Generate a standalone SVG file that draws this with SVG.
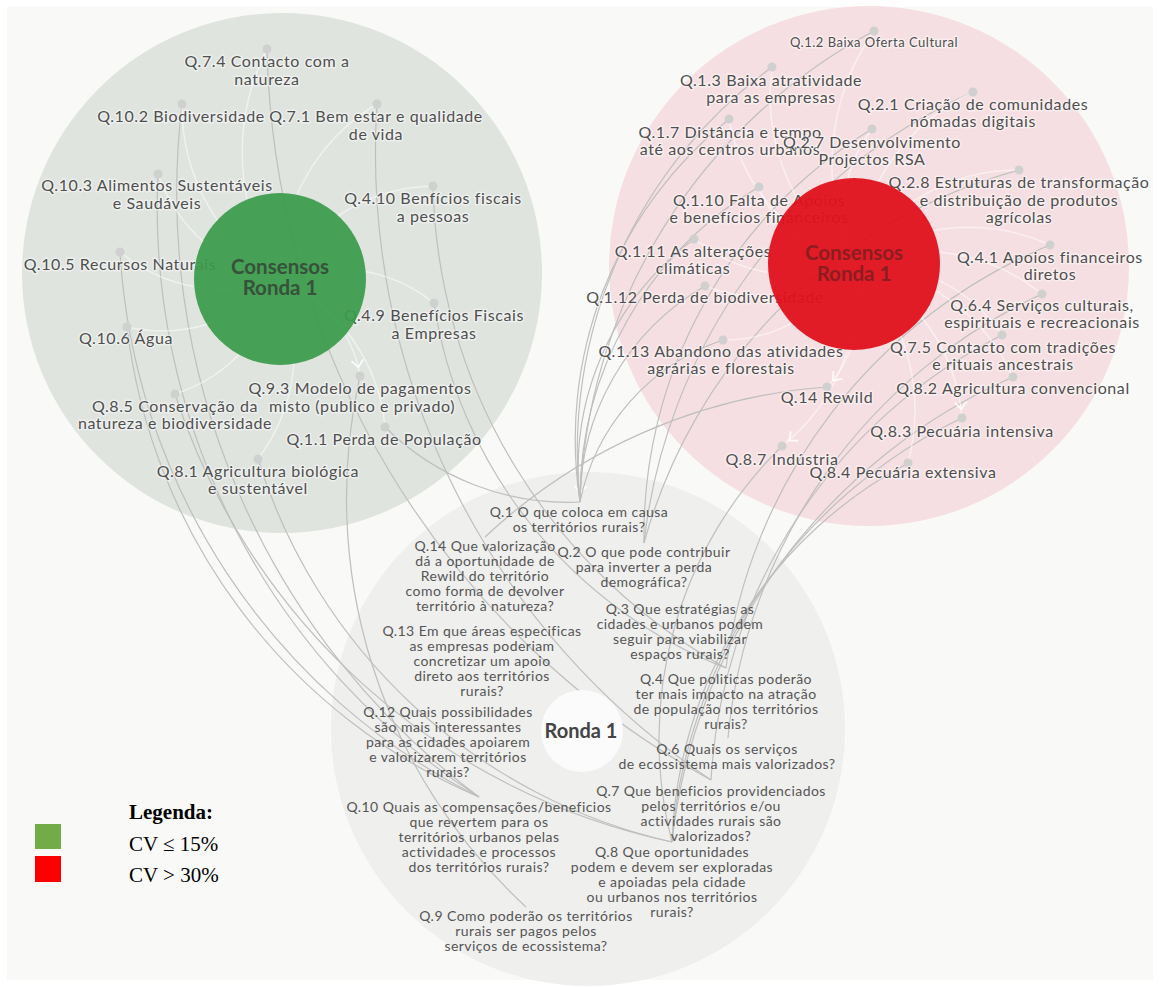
<svg xmlns="http://www.w3.org/2000/svg" width="1160" height="987" viewBox="0 0 1160 987">
  <defs>
    <style>
      .lbl{font-family:Lato,"Open Sans","Liberation Sans",sans-serif;font-size:16px;letter-spacing:.6px;fill:#4f4f4f;text-anchor:middle;stroke:#fff;stroke-opacity:.45;stroke-width:3px;stroke-linejoin:round;paint-order:stroke}
      .sm{font-size:13px;letter-spacing:.5px}
      .q{font-family:Lato,"Open Sans","Liberation Sans",sans-serif;font-size:14px;letter-spacing:.45px;fill:#555;text-anchor:middle}
      .dot{fill:#d0d0d0}
      .link{fill:none;stroke:#bfbfbf;stroke-width:1.2}
      .wlink{fill:none;stroke:#fff;stroke-width:1.5;stroke-opacity:.5}
      .hub{font-family:Lato,"Open Sans","Liberation Sans",sans-serif;font-weight:700;font-size:20.5px;text-anchor:middle}
      .leg{font-family:"Liberation Serif","Times New Roman",serif;font-size:21px;fill:#000}
    </style>
    <marker id="chev" markerUnits="userSpaceOnUse" markerWidth="20" markerHeight="14" refX="16" refY="6" orient="auto" overflow="visible">
      <path d="M0,0 L7,6 L0,12" fill="none" stroke="#fff" stroke-width="1.8" stroke-opacity=".85"/>
    </marker>
  </defs>

  <!-- page -->
  <rect width="1160" height="987" fill="#fff"/>
  <rect x="7" y="7" width="1146" height="973" fill="#f9f9f8"/>

  <!-- cluster backgrounds -->
  <g id="clusters">
    <circle id="ronda-area" cx="588" cy="729" r="257" fill="#efefee"/>
    <circle id="consensus-green-area" cx="282" cy="273" r="260" fill="#dfe4df"/>
    <circle id="consensus-red-area" cx="869" cy="266" r="260" fill="#f6dfe2"/>
  </g>

  <!-- connectors: sub-items to their question -->
  <g id="connectors">
    <path class="link" d="M267 49 A855 855 0 0 0 711 780"/>
    <path class="link" d="M182 104 A754 754 0 0 0 479 797"/>
    <path class="link" d="M377 104 A754 754 0 0 0 711 780"/>
    <path class="link" d="M158 174 A701 701 0 0 0 479 797"/>
    <path class="link" d="M433 186 A564 564 0 0 0 726 668"/>
    <path class="link" d="M120 252 A653 653 0 0 0 479 797"/>
    <path class="link" d="M434 303 A467 467 0 0 0 726 668"/>
    <path class="link" d="M127 327 A587 587 0 0 0 479 797"/>
    <path class="link" d="M360 376 A556 556 0 0 0 526 907"/>
    <path class="link" d="M175 394 A669 669 0 0 0 672 842"/>
    <path class="link" d="M385 427 A260 260 0 0 0 580 502"/>
    <path class="link" d="M258 459 A564 564 0 0 0 672 842"/>

    <path class="link" d="M874 31 A555 555 0 0 0 580 502" marker-end="url(#chev)"/>
    <path class="link" d="M772 67 A476 476 0 0 0 580 502"/>
    <path class="link" d="M729 119 A411 411 0 0 0 580 502"/>
    <path class="link" d="M759 187 A362 362 0 0 0 580 502"/>
    <path class="link" d="M694 239 A287 287 0 0 0 580 502"/>
    <path class="link" d="M705 286 A250 250 0 0 0 580 502"/>
    <path class="link" d="M723 340 A216 216 0 0 0 580 502"/>
    <path class="link" d="M973 92 A562 562 0 0 0 644 543"/>
    <path class="link" d="M872 129 A476 476 0 0 0 644 543"/>
    <path class="link" d="M1019 170 A532 532 0 0 0 644 543"/>
    <path class="link" d="M1050 245 A533 533 0 0 0 726 668"/>
    <path class="link" d="M1042 294 A544 544 0 0 0 728 738"/>
    <path class="link" d="M1002 335 A532 532 0 0 0 711 780"/>
    <path class="link" d="M1013 377 A577 577 0 0 0 672 842"/>
    <path class="link" d="M962 418 A514 514 0 0 0 672 842"/>
    <path class="link" d="M908 463 A447 447 0 0 0 672 842"/>
    <path class="link" d="M782 446 A411 411 0 0 0 672 842"/>
    <path class="link" d="M827 387 A560 560 0 0 0 485 537"/>
  </g>

  <!-- connectors: hubs to their items -->
  <g id="hub-links">
    <path class="wlink" d="M280 279 A230 230 0 0 1 267 49"/>
    <path class="wlink" d="M280 279 A201 201 0 0 1 182 104"/>
    <path class="wlink" d="M280 279 A200 200 0 0 1 377 104"/>
    <path class="wlink" d="M280 279 A161 161 0 0 1 158 174"/>
    <path class="wlink" d="M280 279 A179 179 0 0 1 433 186"/>
    <path class="wlink" d="M280 279 A162 162 0 0 1 120 252"/>
    <path class="wlink" d="M280 279 A156 156 0 0 1 434 303"/>
    <path class="wlink" d="M280 279 A160 160 0 0 1 127 327"/>
    <path class="wlink" d="M280 279 A126 126 0 0 1 360 376" marker-end="url(#chev)"/>
    <path class="wlink" d="M280 279 A156 156 0 0 1 175 394"/>
    <path class="wlink" d="M280 279 A182 182 0 0 1 385 427"/>
    <path class="wlink" d="M280 279 A181 181 0 0 1 258 459"/>

    <path class="wlink" d="M854 264 A234 234 0 0 1 874 31"/>
    <path class="wlink" d="M854 264 A213 213 0 0 1 772 67"/>
    <path class="wlink" d="M854 264 A209 209 0 0 1 973 92"/>
    <path class="wlink" d="M854 264 A191 191 0 0 1 729 119"/>
    <path class="wlink" d="M854 264 A136 136 0 0 1 872 129"/>
    <path class="wlink" d="M854 264 A190 190 0 0 1 1019 170"/>
    <path class="wlink" d="M854 264 A122 122 0 0 1 759 187"/>
    <path class="wlink" d="M854 264 A162 162 0 0 1 694 239"/>
    <path class="wlink" d="M854 264 A197 197 0 0 1 1050 245"/>
    <path class="wlink" d="M854 264 A151 151 0 0 1 705 286"/>
    <path class="wlink" d="M854 264 A190 190 0 0 1 1042 294"/>
    <path class="wlink" d="M854 264 A164 164 0 0 1 1002 335"/>
    <path class="wlink" d="M854 264 A151 151 0 0 1 723 340"/>
    <path class="wlink" d="M854 264 A195 195 0 0 1 1013 377"/>
    <path class="wlink" d="M854 264 A126 126 0 0 1 827 387" marker-end="url(#chev)"/>
    <path class="wlink" d="M854 264 A188 188 0 0 1 962 418" marker-end="url(#chev)"/>
    <path class="wlink" d="M854 264 A196 196 0 0 1 782 446" marker-end="url(#chev)"/>
    <path class="wlink" d="M854 264 A206 206 0 0 1 908 463"/>
  </g>

  <!-- green consensus items -->
  <g id="g-q7-4"><circle class="dot" cx="267" cy="49" r="4.5"/><text class="lbl"><tspan x="267" y="67">Q.7.4 Contacto com a</tspan><tspan x="267" y="85">natureza</tspan></text></g>
  <g id="g-q10-2"><circle class="dot" cx="182" cy="104" r="4.5"/><text class="lbl" x="181" y="122">Q.10.2 Biodiversidade</text></g>
  <g id="g-q7-1"><circle class="dot" cx="377" cy="104" r="4.5"/><text class="lbl"><tspan x="376" y="122">Q.7.1 Bem estar e qualidade</tspan><tspan x="376" y="140">de vida</tspan></text></g>
  <g id="g-q10-3"><circle class="dot" cx="158" cy="174" r="4.5"/><text class="lbl"><tspan x="157" y="191">Q.10.3 Alimentos Sustentáveis</tspan><tspan x="157" y="209">e Saudáveis</tspan></text></g>
  <g id="g-q4-10"><circle class="dot" cx="433" cy="186" r="4.5"/><text class="lbl"><tspan x="433" y="204">Q.4.10 Benfícios fiscais</tspan><tspan x="433" y="222">a pessoas</tspan></text></g>
  <g id="g-q10-5"><circle class="dot" cx="120" cy="252" r="4.5"/><text class="lbl" x="120" y="270">Q.10.5 Recursos Naturais</text></g>
  <g id="g-q4-9"><circle class="dot" cx="434" cy="303" r="4.5"/><text class="lbl"><tspan x="434" y="321">Q.4.9 Benefícios Fiscais</tspan><tspan x="434" y="339">a Empresas</tspan></text></g>
  <g id="g-q10-6"><circle class="dot" cx="127" cy="327" r="4.5"/><text class="lbl" x="126" y="344">Q.10.6 Água</text></g>
  <g id="g-q9-3"><circle class="dot" cx="360" cy="376" r="4.5"/><text class="lbl"><tspan x="360" y="394">Q.9.3 Modelo de pagamentos</tspan><tspan x="362" y="412">misto (publico e privado)</tspan></text></g>
  <g id="g-q8-5"><circle class="dot" cx="175" cy="394" r="4.5"/><text class="lbl"><tspan x="175" y="412">Q.8.5 Conservação da</tspan><tspan x="175" y="429">natureza e biodiversidade</tspan></text></g>
  <g id="g-q1-1"><circle class="dot" cx="385" cy="427" r="4.5"/><text class="lbl" x="384" y="445">Q.1.1 Perda de População</text></g>
  <g id="g-q8-1"><circle class="dot" cx="258" cy="459" r="4.5"/><text class="lbl"><tspan x="258" y="477">Q.8.1 Agricultura biológica</tspan><tspan x="258" y="494">e sustentável</tspan></text></g>

  <!-- red consensus items -->
  <g id="r-q1-2"><circle class="dot" cx="874" cy="31" r="4.5"/><text class="lbl sm" x="874" y="47">Q.1.2 Baixa Oferta Cultural</text></g>
  <g id="r-q1-3"><circle class="dot" cx="772" cy="67" r="4.5"/><text class="lbl"><tspan x="771" y="86">Q.1.3 Baixa atratividade</tspan><tspan x="771" y="103">para as empresas</tspan></text></g>
  <g id="r-q2-1"><circle class="dot" cx="973" cy="92" r="4.5"/><text class="lbl"><tspan x="973" y="110">Q.2.1 Criação de comunidades</tspan><tspan x="973" y="127">nómadas digitais</tspan></text></g>
  <g id="r-q1-7"><circle class="dot" cx="729" cy="119" r="4.5"/><text class="lbl"><tspan x="730" y="138">Q.1.7 Distância e tempo</tspan><tspan x="730" y="155">até aos centros urbanos</tspan></text></g>
  <g id="r-q2-7"><circle class="dot" cx="872" cy="129" r="4.5"/><text class="lbl"><tspan x="872" y="148">Q.2.7 Desenvolvimento</tspan><tspan x="872" y="165">Projectos RSA</tspan></text></g>
  <g id="r-q2-8"><circle class="dot" cx="1019" cy="170" r="4.5"/><text class="lbl"><tspan x="1019" y="188">Q.2.8 Estruturas de transformação</tspan><tspan x="1019" y="206">e distribuição de produtos</tspan><tspan x="1019" y="223">agrícolas</tspan></text></g>
  <g id="r-q1-10"><circle class="dot" cx="759" cy="187" r="4.5"/><text class="lbl"><tspan x="759" y="206">Q.1.10 Falta de Apoios</tspan><tspan x="759" y="223">e benefícios financeiros</tspan></text></g>
  <g id="r-q1-11"><circle class="dot" cx="694" cy="239" r="4.5"/><text class="lbl"><tspan x="693" y="257">Q.1.11 As alterações</tspan><tspan x="693" y="274">climáticas</tspan></text></g>
  <g id="r-q4-1"><circle class="dot" cx="1050" cy="245" r="4.5"/><text class="lbl"><tspan x="1050" y="263">Q.4.1 Apoios financeiros</tspan><tspan x="1050" y="280">diretos</tspan></text></g>
  <g id="r-q1-12"><circle class="dot" cx="705" cy="286" r="4.5"/><text class="lbl" x="705" y="303">Q.1.12 Perda de biodiversidade</text></g>
  <g id="r-q6-4"><circle class="dot" cx="1042" cy="294" r="4.5"/><text class="lbl"><tspan x="1042" y="311">Q.6.4 Serviços culturais,</tspan><tspan x="1042" y="328">espirituais e recreacionais</tspan></text></g>
  <g id="r-q7-5"><circle class="dot" cx="1002" cy="335" r="4.5"/><text class="lbl"><tspan x="1003" y="353">Q.7.5 Contacto com tradições</tspan><tspan x="1003" y="370">e rituais ancestrais</tspan></text></g>
  <g id="r-q1-13"><circle class="dot" cx="723" cy="340" r="4.5"/><text class="lbl"><tspan x="721" y="357">Q.1.13 Abandono das atividades</tspan><tspan x="721" y="374">agrárias e florestais</tspan></text></g>
  <g id="r-q8-2"><circle class="dot" cx="1013" cy="377" r="4.5"/><text class="lbl" x="1013" y="394">Q.8.2 Agricultura convencional</text></g>
  <g id="r-q14"><circle class="dot" cx="827" cy="387" r="4.5"/><text class="lbl" x="827" y="403">Q.14 Rewild</text></g>
  <g id="r-q8-3"><circle class="dot" cx="962" cy="418" r="4.5"/><text class="lbl" x="962" y="437">Q.8.3 Pecuária intensiva</text></g>
  <g id="r-q8-7"><circle class="dot" cx="782" cy="446" r="4.5"/><text class="lbl" x="782" y="465">Q.8.7 Indústria</text></g>
  <g id="r-q8-4"><circle class="dot" cx="908" cy="463" r="4.5"/><text class="lbl" x="903" y="478">Q.8.4 Pecuária extensiva</text></g>

  <!-- hubs -->
  <g id="hub-green">
    <circle cx="280" cy="279" r="86" fill="#3a9b4a" fill-opacity=".93"/>
    <text class="hub" fill="#36523b"><tspan x="280" y="274">Consensos</tspan><tspan x="280" y="295">Ronda 1</tspan></text>
  </g>
  <g id="hub-red">
    <circle cx="854" cy="264" r="86" fill="#e0111c" fill-opacity=".95"/>
    <text class="hub" fill="#8c1c20"><tspan x="854" y="260">Consensos</tspan><tspan x="854" y="281">Ronda 1</tspan></text>
  </g>

  <!-- round 1 questions -->
  <g id="ronda-1">
    <circle cx="582" cy="731" r="41" fill="#fbfbfb"/>
    <text class="hub" fill="#444" style="font-size:20px" x="581" y="738">Ronda 1</text>
  </g>
  <g id="b-q1"><text class="q"><tspan x="579" y="517">Q.1 O que coloca em causa</tspan><tspan x="579" y="532">os territórios rurais?</tspan></text></g>
  <g id="b-q14"><text class="q"><tspan x="485" y="551">Q.14 Que valorização</tspan><tspan x="485" y="566">dá a oportunidade de</tspan><tspan x="485" y="581">Rewild do território</tspan><tspan x="485" y="596">como forma de devolver</tspan><tspan x="485" y="611">território à natureza?</tspan></text></g>
  <g id="b-q2"><text class="q"><tspan x="644" y="557">Q.2 O que pode contribuir</tspan><tspan x="644" y="572">para inverter a perda</tspan><tspan x="644" y="587">demográfica?</tspan></text></g>
  <g id="b-q3"><text class="q"><tspan x="680" y="614">Q.3 Que estratégias as</tspan><tspan x="680" y="629">cidades e urbanos podem</tspan><tspan x="680" y="644">seguir para viabilizar</tspan><tspan x="680" y="659">espaços rurais?</tspan></text></g>
  <g id="b-q13"><text class="q"><tspan x="482" y="636">Q.13 Em que áreas especificas</tspan><tspan x="482" y="651">as empresas poderiam</tspan><tspan x="482" y="666">concretizar um apoio</tspan><tspan x="482" y="681">direto aos territórios</tspan><tspan x="482" y="696">rurais?</tspan></text></g>
  <g id="b-q4"><text class="q"><tspan x="726" y="684">Q.4 Que politicas poderão</tspan><tspan x="726" y="699">ter mais impacto na atração</tspan><tspan x="726" y="714">de população nos territórios</tspan><tspan x="726" y="729">rurais?</tspan></text></g>
  <g id="b-q12"><text class="q"><tspan x="448" y="717">Q.12 Quais possibilidades</tspan><tspan x="448" y="732">são mais interessantes</tspan><tspan x="448" y="747">para as cidades apoiarem</tspan><tspan x="448" y="762">e valorizarem territórios</tspan><tspan x="448" y="777">rurais?</tspan></text></g>
  <g id="b-q6"><text class="q"><tspan x="727" y="754">Q.6 Quais os serviços</tspan><tspan x="727" y="769">de ecossistema mais valorizados?</tspan></text></g>
  <g id="b-q7"><text class="q"><tspan x="711" y="796">Q.7 Que beneficios providenciados</tspan><tspan x="711" y="811">pelos territórios e/ou</tspan><tspan x="711" y="826">actividades rurais são</tspan><tspan x="711" y="841">valorizados?</tspan></text></g>
  <g id="b-q10"><text class="q"><tspan x="479" y="812">Q.10 Quais as compensações/beneficios</tspan><tspan x="479" y="827">que revertem para os</tspan><tspan x="479" y="842">territórios urbanos pelas</tspan><tspan x="479" y="857">actividades e processos</tspan><tspan x="479" y="872">dos territórios rurais?</tspan></text></g>
  <g id="b-q8"><text class="q"><tspan x="672" y="857">Q.8 Que oportunidades</tspan><tspan x="672" y="872">podem e devem ser exploradas</tspan><tspan x="672" y="887">e apoiadas pela cidade</tspan><tspan x="672" y="902">ou urbanos nos territórios</tspan><tspan x="672" y="917">rurais?</tspan></text></g>
  <g id="b-q9"><text class="q"><tspan x="526" y="921">Q.9 Como poderão os territórios</tspan><tspan x="526" y="936">rurais ser pagos pelos</tspan><tspan x="526" y="951">serviços de ecossistema?</tspan></text></g>

  <!-- legend -->
  <g id="legend">
    <rect x="35" y="824" width="26" height="25" fill="#70ad47"/>
    <rect x="35" y="856" width="26" height="26" fill="#ff0000"/>
    <text class="leg" x="129" y="819" font-weight="700">Legenda:</text>
    <text class="leg" x="129" y="851">CV ≤ 15%</text>
    <text class="leg" x="129" y="882">CV &gt; 30%</text>
  </g>
</svg>
